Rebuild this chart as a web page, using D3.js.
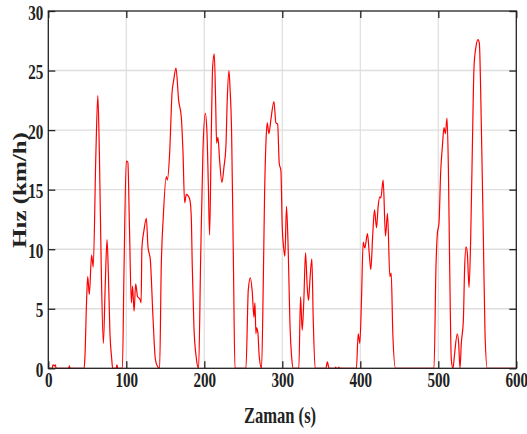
<!DOCTYPE html>
<html>
<head>
<meta charset="utf-8">
<script src="https://cdn.jsdelivr.net/npm/d3@7"></script>
<style>
  body { margin: 0; background: #fff; }
  text { font-family: "Liberation Serif", "Times New Roman", serif; font-weight: bold; fill: #222; }
</style>
</head>
<body>
<svg id="chart"></svg>
<script>
// speed trace (time in s, speed in km/h)
const time = [0,5,6,8,9,10,26,27,28,46,47,49,50.5,52.6,55.5,57.6,61,63.5,65.5,68,70.6,73,75.3,77,79,81.3,82.5,87,88,89,95,97,100,102,104,106.5,108,110,112,114.5,117.5,119,120,122.7,125.7,127.8,130.8,134.2,137.2,139.7,142.7,144.8,147.4,151.3,152.6,155.6,158.6,160.8,163.7,167.1,170.5,172.6,174.8,177,179,181.6,183.3,184.6,186.7,189.7,192.7,195.3,198.3,201.3,203.4,205.1,206.8,209,210.7,212.8,214.5,215.8,217.5,219.6,222.6,225.2,227.7,229.4,231.6,233,235,236.5,237.5,239.3,253.4,256.4,259,261.5,263.6,264.9,266.2,267,268.7,270.4,273.4,275.6,277.3,279,280.7,282.8,285.4,289.3,291.8,294,296.1,298.2,299.9,301.6,303.3,305.4,307.6,309.7,312.3,314,321.2,323.4,325.5,327.6,329.8,331.9,333.6,335.7,337.9,339.6,342.1,356,357.7,360,368,368.5,369,372,372.5,373,395,397.3,399.4,401.5,403.7,405.8,409.2,411.4,413.5,416,418.2,420.8,422.9,425,426.3,429.3,432.3,434.9,437.9,439.6,441.7,445.1,494.5,497,498.8,500.9,503,505.2,507.3,509,511.2,512.9,514.6,516.7,518.8,521,524.4,526.1,527.8,529.5,532.1,533.8,535.5,537.2,539.4,541.5,543.6,545.8,548.3,550.9,552.6,555.2,557.7,559.9,562.8,600];
const speed = [0,0,0.3,0.2,0.3,0,0,0.2,0,0,1,5.5,7.7,6.2,9.5,8.5,18,22.9,18,8,2.1,7,10.8,8,3,0.8,0,0,0.3,0,0,8,17.4,17.3,12,5.5,6.9,4.8,7.1,6.0,5.8,5.5,10.1,11.6,12.6,10.2,9.1,4.3,0.8,0.2,0,8.5,12.7,16.1,15.8,18.1,23.1,24.2,25.2,22.5,21.1,18.3,13.9,14.6,14.5,14.1,12.7,8.5,3.5,0.9,0,9.1,18.3,21.4,19.8,15.6,11.2,19.8,25.3,26.4,22.5,18.9,19.4,17.5,15.6,16.9,18.6,22.5,25.0,23.5,19.8,13,8,0,0,6.6,7.6,6.4,4.3,5.5,2.9,3.4,3.0,1.0,0,7.1,14.7,18.9,20.6,19.7,20.9,22.4,20.6,20.5,17.2,16.6,11.9,10.2,9.4,13.6,9.9,4.0,0.7,0,0,6.0,3.2,5.7,9.7,6.9,5.7,7.7,9.2,4.3,0,0,0.55,0,0,0.1,0,0,0.1,0,0,2.9,2.1,5.7,10.6,10.1,11.3,9.7,8.3,11.3,13.3,11.8,13.6,14.4,14.3,15.8,11.1,13.0,7.7,8.0,2.9,0,0,8.5,11.3,12.2,16.4,18.6,20.2,19.7,21.0,16.9,8.5,0.7,0,1.3,2.9,2.1,0,2.1,4.0,8.5,10.2,9.7,6.8,10.8,18.3,25.3,27.0,27.6,27.3,20.3,11.3,2.9,0,0];

const xTicks = [0,100,200,300,400,500,600];
const yTicks = [0,5,10,15,20,25,30];
const xLabel = "Zaman (s)";
const yLabel = "Hız (km/h)";

const width = 527, height = 434;
const margin = {top: 11, right: 10.7, bottom: 65.7, left: 48.3};
const squeeze = 0.72; // the reference type is horizontally condensed

const svg = d3.select("#chart")
    .attr("width", width)
    .attr("height", height);

const x = d3.scaleLinear().domain([0, 600]).range([margin.left, width - margin.right]);
const y = d3.scaleLinear().domain([0, 30]).range([height - margin.bottom, margin.top]);

// grid
svg.append("g").selectAll("line")
    .data(xTicks.slice(1, -1))
    .enter().append("line")
    .attr("x1", d => x(d)).attr("x2", d => x(d))
    .attr("y1", y(0)).attr("y2", y(30))
    .attr("stroke", "#dedede").attr("stroke-width", 1.2);
svg.append("g").selectAll("line")
    .data(yTicks.slice(1, -1))
    .enter().append("line")
    .attr("x1", x(0)).attr("x2", x(600))
    .attr("y1", d => y(d)).attr("y2", d => y(d))
    .attr("stroke", "#dedede").attr("stroke-width", 1.4);

// speed line
const line = d3.line()
    .x((d, i) => x(time[i]))
    .y(d => y(d))
    .curve(d3.curveMonotoneX);

svg.append("path")
    .datum(speed)
    .attr("d", line)
    .attr("fill", "none")
    .attr("stroke", "#ff0000")
    .attr("stroke-width", 1.2);

// axes, ticks pointing inward
const axisStyle = g => {
    g.select(".domain").remove();
    g.selectAll(".tick line").attr("stroke", "#222").attr("stroke-width", 1.3);
};

svg.append("g")
    .attr("transform", `translate(0,${y(0)})`)
    .call(d3.axisBottom(x).tickValues(xTicks).tickSize(-7).tickFormat(d3.format("d")))
    .call(axisStyle)
    .call(g => g.selectAll("text")
        .attr("y", null).attr("dy", null)
        .attr("font-size", 21)
        .attr("transform", `translate(0,19) scale(${squeeze},1)`));

svg.append("g")
    .attr("transform", `translate(0,${y(30)})`)
    .call(d3.axisTop(x).tickValues(xTicks).tickSize(-7).tickFormat(""))
    .call(axisStyle);

svg.append("g")
    .attr("transform", `translate(${x(0)},0)`)
    .call(d3.axisLeft(y).tickValues(yTicks).tickSize(-7).tickFormat(d3.format("d")))
    .call(axisStyle)
    .call(g => g.selectAll("text")
        .attr("x", null).attr("dy", null)
        .attr("font-size", 21)
        .attr("transform", `translate(-5,8) scale(${squeeze},1)`));

svg.append("g")
    .attr("transform", `translate(${x(600)},0)`)
    .call(d3.axisRight(y).tickValues(yTicks).tickSize(-7).tickFormat(""))
    .call(axisStyle);

// frame
svg.append("rect")
    .attr("x", x(0)).attr("y", y(30))
    .attr("width", x(600) - x(0)).attr("height", y(0) - y(30))
    .attr("fill", "none").attr("stroke", "#222").attr("stroke-width", 1.3);

// axis titles
svg.append("text")
    .attr("text-anchor", "middle")
    .attr("font-size", 23)
    .attr("transform", `translate(280,423) scale(${squeeze},1)`)
    .text(xLabel);

svg.append("text")
    .attr("text-anchor", "middle")
    .attr("font-size", 25)
    .attr("transform", `translate(26,190) scale(${squeeze},1) rotate(-90)`)
    .text(yLabel);
</script>
</body>
</html>
